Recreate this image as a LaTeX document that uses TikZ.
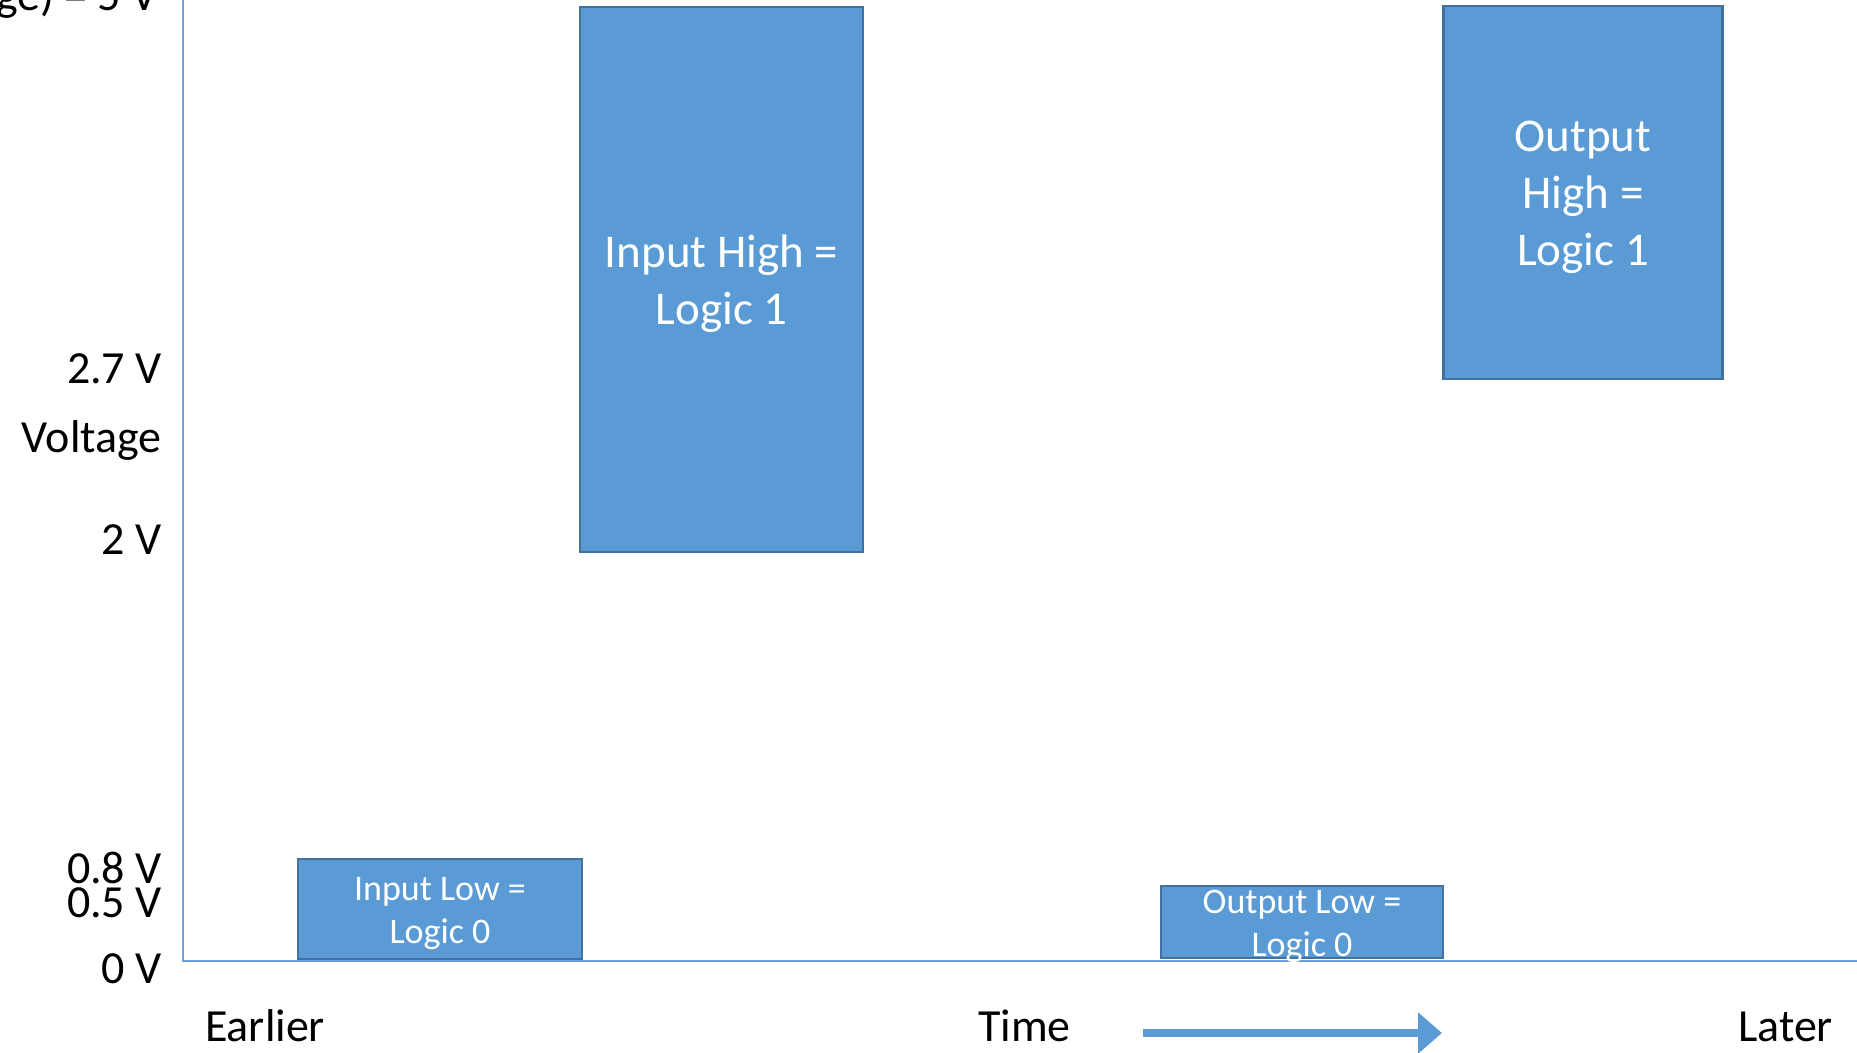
\documentclass[tikz,border=0pt]{standalone}
\usepackage{fontspec}
\setmainfont{Carlito}
\usetikzlibrary{arrows.meta}
\definecolor{boxfill}{RGB}{91,155,213}
\definecolor{boxline}{RGB}{65,113,156}
\definecolor{axisc}{RGB}{110,160,215}
\tikzset{
  lbl/.style={font=\fontsize{46}{56}\selectfont, inner sep=0pt},
  barbox/.style={draw=boxline, fill=boxfill, line width=2.5pt, inner sep=0pt},
  bigtxt/.style={text=white, align=center, inner sep=0pt, font=\fontsize{47}{57}\selectfont},
  smalltxt/.style={text=white, align=center, inner sep=0pt, font=\fontsize{36}{43}\selectfont},
}
\begin{document}
\begin{tikzpicture}[x=1pt,y=-1pt]
\useasboundingbox (0,0) rectangle (1857,1052);
% axes
\coordinate (top) at (183,0);
\coordinate (org) at (183,961);
\coordinate (xend) at (1857,961);
\draw[axisc, line width=1.6pt] (top) -- (org) -- (xend);
% boxes
\node[barbox, minimum width=284pt, minimum height=100pt] (il) at (440,909) {};
\node[smalltxt] (ilt) at ([yshift=-5pt]il.center) {Input Low =\\Logic 0};
\node[barbox, minimum width=283pt, minimum height=545pt] (ih) at (721.5,279.5) {};
\node[bigtxt] (iht) at ([yshift=-4pt]ih.center) {Input High =\\Logic 1};
\node[barbox, minimum width=282pt, minimum height=72pt] (ol) at (1302,922) {};
\node[smalltxt] (olt) at ([yshift=-4pt]ol.center) {Output Low =\\Logic 0};
\node[barbox, minimum width=279pt, minimum height=373pt] (oh) at (1583,192.5) {};
\node[bigtxt] (oht) at ([yshift=-5pt]oh.center) {Output\\High =\\Logic 1};
% y labels
\node[lbl, anchor=base east] (l5) at (158,10) {age) = 5 V};
\node[lbl, anchor=base east] (l27) at (162,383) {2.7 V};
\node[lbl, anchor=base east] (lv) at (162,452) {Voltage};
\node[lbl, anchor=base east] (l2) at (162,554) {2 V};
\node[lbl, anchor=base east] (l08) at (162,883) {0.8 V};
\node[lbl, anchor=base east] (l05) at (162,917) {0.5 V};
\node[lbl, anchor=base east] (l0) at (162,983) {0 V};
% x labels
\node[lbl, anchor=base west] (early) at (205,1041) {Earlier};
\node[lbl, anchor=base west] (time) at (978,1041) {Time};
\node[lbl, anchor=base west] (late) at (1738,1041) {Later};
% arrow
\coordinate (as) at (1143,1033);
\coordinate (ae) at (1442,1033);
\draw[boxfill, line width=8pt, -{Triangle[length=24pt,width=40pt]}] (as) -- (ae);
\end{tikzpicture}
\end{document}
